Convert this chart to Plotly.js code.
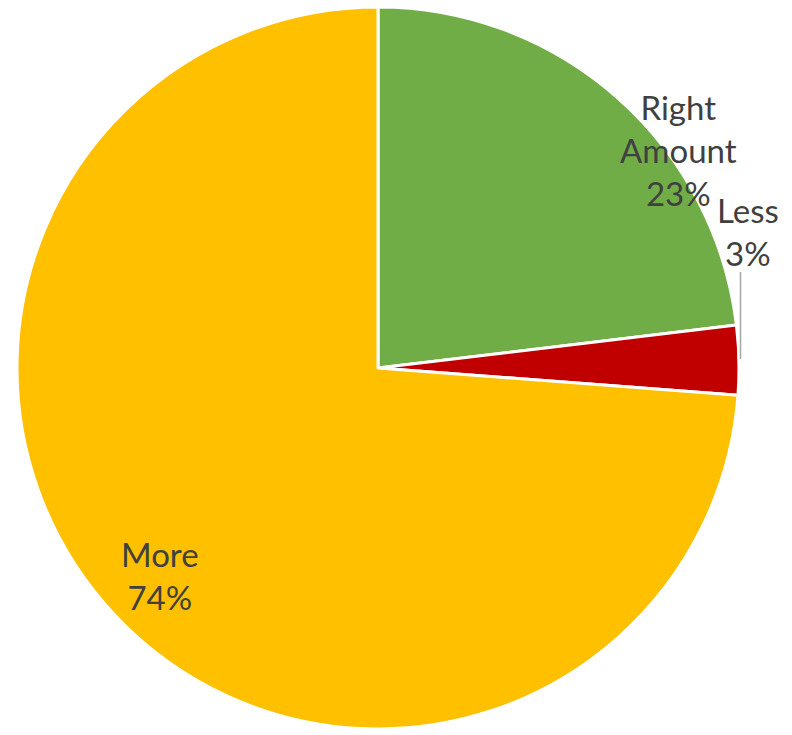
<!DOCTYPE html>
<html>
<head>
<meta charset="utf-8">
<script src="https://cdn.plot.ly/plotly-3.0.1.min.js"></script>
<style>html,body{margin:0;padding:0;background:#fff;}#chart{width:792px;height:735px;}</style>
</head>
<body>
<div id="chart"></div>
<script>
const categories = ["Right Amount", "Less", "More"];
const labelLines = ["Right<br>Amount", "Less", "More"];
const values = [23.1, 3.1, 73.8];
const colors = ["#70AD47", "#C00000", "#FFC000"];
const W = 792, H = 735;
// label anchor positions in pixels (layout only)
const labelPos = [[678, 150], [748, 231], [160, 575]];

const total = values.reduce((a, b) => a + b, 0);
const annotations = categories.map((c, i) => ({
  xref: "paper", yref: "paper",
  x: labelPos[i][0] / W, y: 1 - labelPos[i][1] / H,
  xanchor: "center", yanchor: "middle",
  text: labelLines[i] + "<br>" + Math.round(values[i] / total * 100) + "%",
  showarrow: false,
  font: {family: "Lato, 'Open Sans', sans-serif", size: 33, color: "#404040"}
}));

const data = [{
  type: "pie",
  labels: categories,
  values: values,
  sort: false,
  direction: "clockwise",
  rotation: 0,
  textinfo: "none",
  hoverinfo: "label+percent",
  marker: {colors: colors, line: {color: "#FFFFFF", width: 3}},
  domain: {x: [(378 - 361) / W, (378 + 361) / W], y: [(367 - 361) / H, (367 + 361) / H]},
  showlegend: false
}];

const layout = {
  width: W, height: H,
  margin: {l: 0, r: 0, t: 0, b: 0},
  paper_bgcolor: "#FFFFFF",
  showlegend: false,
  annotations: annotations,
  shapes: [{
    type: "line", xref: "paper", yref: "paper",
    x0: 740.5 / W, x1: 740.5 / W, y0: 1 - 272 / H, y1: 1 - 359 / H,
    line: {color: "#A6A6A6", width: 1.5}
  }]
};

Plotly.newPlot("chart", data, layout, {displayModeBar: false});
</script>
</body>
</html>
